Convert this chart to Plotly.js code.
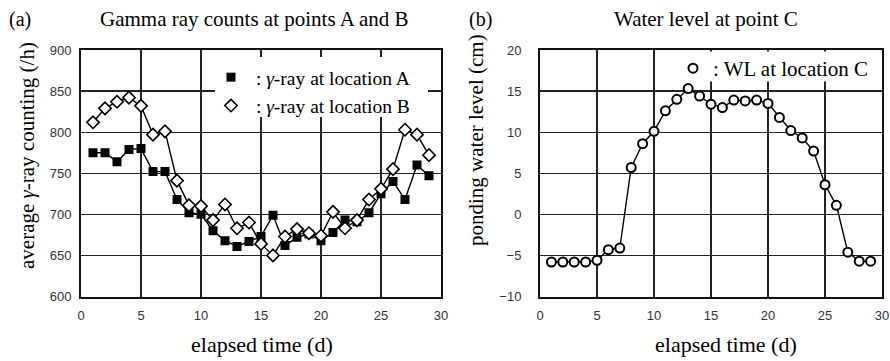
<!DOCTYPE html>
<html>
<head>
<meta charset="utf-8">
<script src="https://cdn.plot.ly/plotly-3.0.1.min.js"></script>
<style>
  html, body { margin: 0; padding: 0; background: #fff; }
  #chart { width: 890px; height: 361px; }
</style>
</head>
<body>
<div id="chart"></div>
<script>
// Daily observations (elapsed days)
const days = [1, 2, 3, 4, 5, 6, 7, 8, 9, 10, 11, 12, 13, 14, 15, 16, 17, 18, 19, 20, 21, 22, 23, 24, 25, 26, 27, 28, 29];

// (a) average gamma-ray counting rate (/h)
const gammaA = [775, 775, 764, 779, 780, 752, 752, 718, 702, 700, 680, 668, 661, 667, 673, 699, 662, 672, 676, 668, 678, 693, 691, 702, 725, 740, 718, 760, 747];
const gammaB = [812, 829, 837, 842, 832, 797, 801, 741, 711, 710, 693, 712, 683, 690, 664, 650, 673, 682, 677, 674, 703, 683, 693, 718, 731, 755, 803, 797, 772];

// (b) ponding water level (cm)
const levelC = [-5.8, -5.8, -5.8, -5.8, -5.6, -4.3, -4.1, 5.7, 8.6, 10.1, 12.6, 14.0, 15.3, 14.4, 13.4, 13.0, 13.9, 13.8, 13.9, 13.5, 11.8, 10.2, 9.3, 7.7, 3.6, 1.1, -4.6, -5.7, -5.7];

// Axis tick values
const xTicks = [0, 5, 10, 15, 20, 25, 30];
const yTicksA = [600, 650, 700, 750, 800, 850, 900];
const yTicksC = [-10, -5, 0, 5, 10, 15, 20];

const SERIF = '"Liberation Serif", "Times New Roman", serif';
const SANS = '"Liberation Sans", Arial, sans-serif';
const W = 890, H = 361;
const px = v => v / W;
const py = v => (H - v) / H;
const NBSP = '\u00a0';

const lineStyle = { color: '#000', width: 1.4 };

const traces = [
  { x: days, y: gammaA, xaxis: 'x', yaxis: 'y', mode: 'lines', line: lineStyle, showlegend: false, hoverinfo: 'skip' },
  { x: days, y: gammaB, xaxis: 'x', yaxis: 'y', mode: 'lines', line: lineStyle, showlegend: false, hoverinfo: 'skip' },
  { x: days, y: gammaA, xaxis: 'x', yaxis: 'y', mode: 'markers', name: NBSP + ': <i>γ</i>-ray at location A',
    legend: 'legend',
    marker: { symbol: 'square', size: 9, color: '#000', line: { color: '#000', width: 0 } } },
  { x: days, y: gammaB, xaxis: 'x', yaxis: 'y', mode: 'markers', name: NBSP + ': <i>γ</i>-ray at location B',
    legend: 'legend',
    marker: { symbol: 'diamond', size: 9.5, color: '#fff', line: { color: '#000', width: 1.6 } } },
  { x: days, y: levelC, xaxis: 'x2', yaxis: 'y2', mode: 'lines', line: lineStyle, showlegend: false, hoverinfo: 'skip' },
  { x: days, y: levelC, xaxis: 'x2', yaxis: 'y2', mode: 'markers', name: ': WL at location C',
    legend: 'legend2',
    marker: { symbol: 'circle', size: 9, color: '#fff', line: { color: '#000', width: 2 } } }
];

const axisBase = {
  showline: true, mirror: true, linewidth: 2, linecolor: '#111',
  showgrid: true, gridcolor: '#222', gridwidth: 1.3,
  zeroline: false, ticks: '', fixedrange: true,
  tickfont: { family: SANS, size: 13, color: '#333' }
};

function label(text, x, y, size, angle) {
  return {
    text: text, x: px(x), y: py(y), xref: 'paper', yref: 'paper',
    xanchor: 'center', yanchor: 'middle', showarrow: false,
    textangle: angle || 0,
    font: { family: SERIF, size: size, color: '#000' }
  };
}

// white panel behind a legend, masking the grid in that corner
function legendPanel(x0, y0, x1, y1) {
  return {
    type: 'rect', xref: 'paper', yref: 'paper', layer: 'above',
    x0: px(x0), x1: px(x1), y0: py(y1), y1: py(y0),
    fillcolor: '#fff', line: { width: 0 }
  };
}

const layout = {
  width: W, height: H,
  margin: { l: 0, r: 0, t: 0, b: 0 },
  paper_bgcolor: '#fff', plot_bgcolor: '#fff',
  xaxis: Object.assign({}, axisBase, {
    domain: [px(81), px(441)], range: [0, 30], tickvals: xTicks, anchor: 'y', ticklabelstandoff: 6
  }),
  yaxis: Object.assign({}, axisBase, {
    domain: [py(296.5), py(50)], range: [600, 900], tickvals: yTicksA, anchor: 'x', ticklabelstandoff: 5
  }),
  xaxis2: Object.assign({}, axisBase, {
    domain: [px(540), px(882)], range: [0, 30], tickvals: xTicks, anchor: 'y2', ticklabelstandoff: 6
  }),
  yaxis2: Object.assign({}, axisBase, {
    domain: [py(296.5), py(50)], range: [-10, 20], tickvals: yTicksC, anchor: 'x2', ticklabelstandoff: 14
  }),
  legend: {
    x: px(211), y: py(58), xanchor: 'left', yanchor: 'top',
    bgcolor: 'rgba(0,0,0,0)', borderwidth: 0,
    font: { family: SERIF, size: 19.5, color: '#000' },
    tracegroupgap: 0
  },
  legend2: {
    x: px(673), y: py(48), xanchor: 'left', yanchor: 'top',
    bgcolor: 'rgba(0,0,0,0)', borderwidth: 0,
    font: { family: SERIF, size: 21, color: '#000' }
  },
  shapes: [
    legendPanel(215, 57, 428, 117),
    legendPanel(678, 51.5, 880.5, 81.5)
  ],
  annotations: [
    label('(a)', 20, 19, 20),
    label('Gamma ray counts at points A and B', 255, 19, 21),
    label('(b)', 480, 19, 20),
    label('Water level at point C', 706, 19, 21),
    label('elapsed time (d)', 262, 344, 22),
    label('elapsed time (d)', 726, 344, 22),
    label('average <i>γ</i>-ray counting (/h)', 27, 156, 21, -90),
    label('ponding water level (cm)', 476, 140, 21, -90)
  ],
  showlegend: true
};

Plotly.newPlot('chart', traces, layout, { staticPlot: true, displayModeBar: false });
</script>
</body>
</html>
